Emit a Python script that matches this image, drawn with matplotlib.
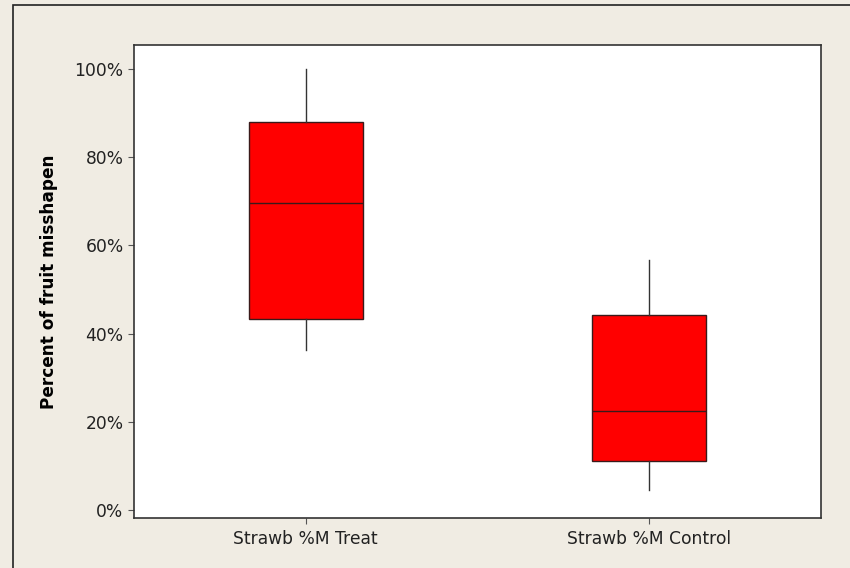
import matplotlib.pyplot as plt
from matplotlib.patches import Rectangle
from matplotlib.ticker import FuncFormatter

labels = ['Strawb %M Treat', 'Strawb %M Control']
whisk_low = [36.3, 4.5]
q1 = [43.2, 11.2]
median = [69.7, 22.5]
q3 = [88.0, 44.2]
whisk_high = [100.0, 56.7]

bg = '#f0ece3'
fig = plt.figure(figsize=(8.5, 5.68), dpi=100, facecolor=bg)
ax = fig.add_axes([134/850, 1-518/568, (821-134)/850, (518-45)/568])
ax.set_facecolor('white')

stats = []
for i in range(len(labels)):
    stats.append({'label': labels[i], 'whislo': whisk_low[i], 'q1': q1[i], 'med': median[i],
                  'q3': q3[i], 'whishi': whisk_high[i], 'fliers': []})

ax.bxp(stats, positions=[1, 2], widths=0.333, patch_artist=True, showcaps=False,
       boxprops=dict(facecolor='#ff0000', edgecolor='#3a1a1a', linewidth=1),
       medianprops=dict(color='#3a1a1a', linewidth=1),
       whiskerprops=dict(color='#333333', linewidth=1))

ax.set_xlim(0.5, 2.5)
ax.set_ylim(-1.81, 105.44)
ax.set_yticks([0, 20, 40, 60, 80, 100])
ax.yaxis.set_major_formatter(FuncFormatter(lambda v, p: '%d%%' % v))
ax.tick_params(direction='out', length=4, width=0.8, color='#555555', labelsize=12.3,
               labelcolor='#222222', pad=3.5)
ax.tick_params(axis='x', pad=4.5)
ax.set_ylabel('Percent of fruit misshapen', fontsize=12.2, fontweight='bold', labelpad=12)
for s in ax.spines.values():
    s.set_linewidth(1.2)
    s.set_color('#333333')

# outer frame like the original export
fig.patches.append(Rectangle((13/850, -0.1), 1.2, 1 - 5/568 + 0.1, transform=fig.transFigure,
                             fill=False, edgecolor='#222222', linewidth=1.2))

fig.savefig('out.png', dpi=100, facecolor=bg)
